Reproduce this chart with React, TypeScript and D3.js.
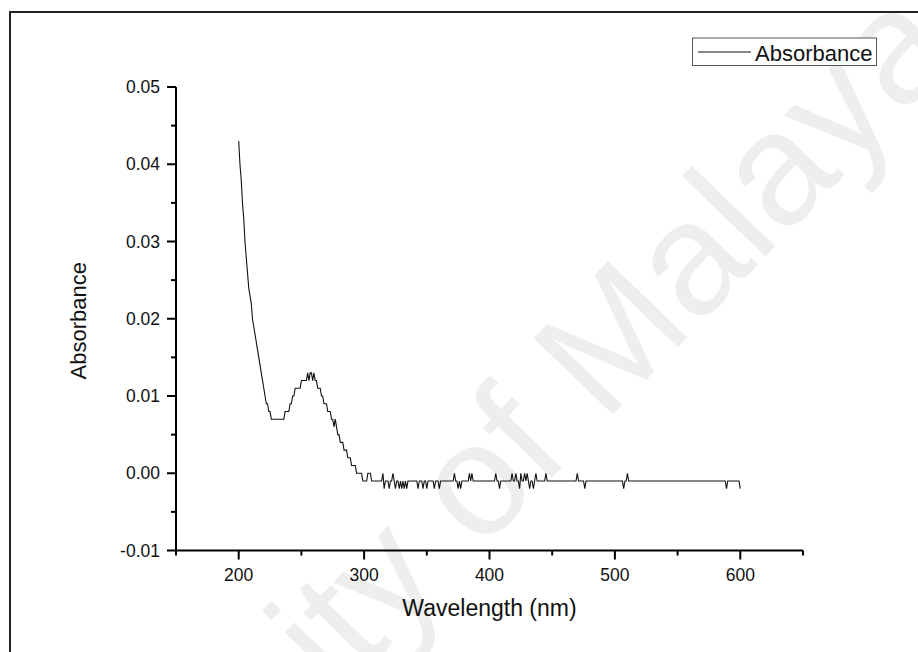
import React from "react";
import * as d3 from "d3";

// ---- data ----
const curveStartNm = 200;
// absorbance in thousandths (mAbs), 1 nm steps from 200 nm
const curveMilliAbs = [
  43, 40, 38, 35, 33, 30, 28, 26, 24, 23, 22, 20, 19, 18, 17, 16, 15, 14, 13, 12,
  11, 10, 9, 9, 8, 8,
  7, 7, 7, 7, 7, 7, 7, 7, 7, 7, 7,
  8, 8, 8, 8, 9, 9, 10, 10,
  11, 11, 11, 11, 11, 12, 12, 12, 12, 12,
  13, 12, 13, 13, 12, 13, 12, 12,
  11, 11, 11, 10, 10, 9, 9, 9, 8, 8, 8, 7, 7, 6, 7, 6, 5, 5, 4, 4, 4,
  3, 3, 3, 2, 2, 2, 1, 1, 1, 1, 0, 0, 0, 0, 0, -1, -1, -1, -1,
];
const tailEndNm = 600;
const baselineMilliAbs = -1;
const upSpikeNm = [303, 304, 305, 315, 323, 372, 384, 386, 405, 418, 421, 425, 428, 430, 437, 445, 470, 510];
const upSpikeMilliAbs = 0;
const downSpikeNm = [316, 320, 325, 328, 330, 332, 334, 343, 347, 350, 356, 360, 375, 377, 408, 424, 432, 435, 476, 507, 589, 600];
const downSpikeMilliAbs = -2;

const xMajorTicks = [200, 300, 400, 500, 600];
const xMinorTicks = [150, 250, 350, 450, 550, 650];
const yMajorTicks = [-0.01, 0, 0.01, 0.02, 0.03, 0.04, 0.05];
const yTickLabels = ["-0.01", "0.00", "0.01", "0.02", "0.03", "0.04", "0.05"];
const yMinorTicks = [-0.005, 0.005, 0.015, 0.025, 0.035, 0.045];

const seriesName = "Absorbance";
const xTitle = "Wavelength (nm)";
const yTitle = "Absorbance";
const watermark = "University of Malaya";

export default function App() {
  const W = 918;
  const H = 652;
  const x = d3.scaleLinear().domain([150, 650]).range([176, 803]);
  const y = d3.scaleLinear().domain([-0.01, 0.05]).range([550.5, 87]);

  const data: [number, number][] = [];
  for (let nm = curveStartNm; nm <= tailEndNm; nm++) {
    const i = nm - curveStartNm;
    let m: number;
    if (i < curveMilliAbs.length) m = curveMilliAbs[i];
    else if (upSpikeNm.includes(nm)) m = upSpikeMilliAbs;
    else if (downSpikeNm.includes(nm)) m = downSpikeMilliAbs;
    else m = baselineMilliAbs;
    if (i < curveMilliAbs.length && upSpikeNm.includes(nm)) m = upSpikeMilliAbs;
    data.push([nm, m / 1000]);
  }
  const line = d3
    .line<[number, number]>()
    .x((d) => x(d[0]))
    .y((d) => y(d[1]));

  const x0 = x.range()[0];
  const y0 = y.range()[0];
  const font = "'Liberation Sans', Arial, sans-serif";

  return (
    <svg
      width={W}
      height={H}
      style={{ position: "absolute", left: 0, top: 0, background: "#fff" }}
      fontFamily={font}
    >
      <rect x={0} y={0} width={W} height={H} fill="#fff" />
      {/* watermark */}
      <text
        transform="translate(962,53) rotate(-46)"
        textAnchor="end"
        fontSize={160}
        fill="#eeeeee"
      >
        {watermark}
      </text>
      {/* outer frame */}
      <rect x={10} y={12} width={940} height={700} fill="none" stroke="#222" strokeWidth={2} />

      {/* curve */}
      <path d={line(data) || ""} fill="none" stroke="#111" strokeWidth={1.1} />

      {/* axes */}
      <line x1={x0} x2={x0} y1={y.range()[1]} y2={y0 + 1} stroke="#000" strokeWidth={2} />
      <line x1={x0 - 1} x2={x.range()[1]} y1={y0} y2={y0} stroke="#000" strokeWidth={2} />

      {yMajorTicks.map((t, i) => (
        <g key={"ym" + t}>
          <line x1={x0 - 9} x2={x0} y1={y(t)} y2={y(t)} stroke="#000" strokeWidth={2} />
          <text x={x0 - 16} y={y(t)} dy="0.35em" textAnchor="end" fontSize={17.5} fill="#111">
            {yTickLabels[i]}
          </text>
        </g>
      ))}
      {yMinorTicks.map((t) => (
        <line key={"yn" + t} x1={x0 - 5} x2={x0} y1={y(t)} y2={y(t)} stroke="#000" strokeWidth={2} />
      ))}
      {xMajorTicks.map((t) => (
        <g key={"xm" + t}>
          <line x1={x(t)} x2={x(t)} y1={y0} y2={y0 + 9} stroke="#000" strokeWidth={2} />
          <text x={x(t)} y={581} textAnchor="middle" fontSize={17.5} fill="#111">
            {t}
          </text>
        </g>
      ))}
      {xMinorTicks.map((t) => (
        <line key={"xn" + t} x1={x(t)} x2={x(t)} y1={y0} y2={y0 + 5} stroke="#000" strokeWidth={2} />
      ))}

      <text x={(x.range()[0] + x.range()[1]) / 2} y={616} textAnchor="middle" fontSize={23} fill="#111">
        {xTitle}
      </text>
      <text
        transform={`translate(86,${(y.range()[0] + y.range()[1]) / 2 + 2}) rotate(-90)`}
        textAnchor="middle"
        fontSize={22}
        fill="#111"
      >
        {yTitle}
      </text>

      {/* legend */}
      <rect x={692.5} y={38} width={184} height={27.5} fill="#fff" stroke="#555" strokeWidth={1} />
      <line x1={698} x2={751} y1={52} y2={52} stroke="#111" strokeWidth={1} />
      <text x={755} y={60.5} fontSize={22} fill="#111">
        {seriesName}
      </text>
    </svg>
  );
}
